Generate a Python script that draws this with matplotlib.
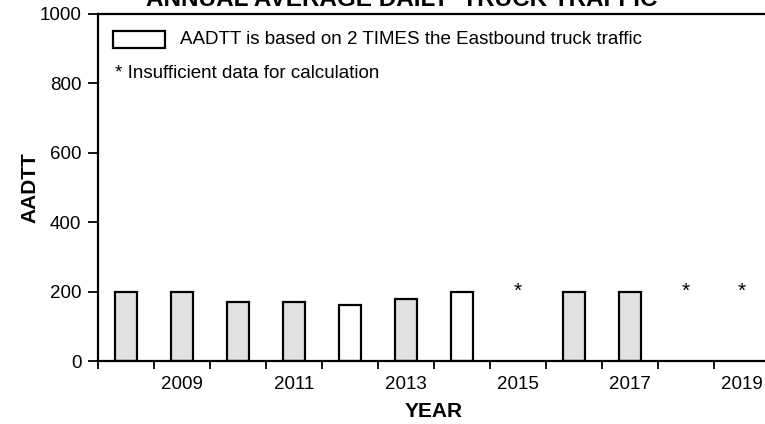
import numpy as np
import matplotlib.pyplot as plt
from matplotlib.patches import Rectangle

plt.rcParams['font.family'] = ['Liberation Sans', 'DejaVu Sans']

years = [2008, 2009, 2010, 2011, 2012, 2013, 2014, 2015, 2016, 2017, 2018, 2019]
# None = insufficient data
aadtt = [200, 200, 170, 170, 160, 180, 200, None, 200, 200, None, None]
# True = based on 2 times the eastbound truck traffic
doubled = [False, False, False, False, True, False, True, False, False, False, False, False]
tick_labels = ['2009', '2011', '2013', '2015', '2017', '2019']

fig = plt.figure(figsize=(7.65, 4.24), dpi=100)
ax = fig.add_axes([98 / 765, 63 / 424, 672 / 765, 347 / 424])

for yr, val, dbl in zip(years, aadtt, doubled):
    if val is None:
        ax.text(yr, 200, '*', ha='center', va='center', fontsize=15)
    else:
        ax.bar(yr, val, width=0.4, color='white' if dbl else '#e2e2e2',
               edgecolor='black', linewidth=1.6)

ax.set_xlim(2007.5, 2019.5)
ax.set_ylim(0, 1000)
ax.set_yticks(np.arange(0, 1001, 200))
ax.set_xticks(np.arange(2007.5, 2019.0, 1.0))
ax.set_xticklabels([])
ax.set_xticks([int(t) for t in tick_labels], minor=True)
ax.set_xticklabels(tick_labels, minor=True)
ax.tick_params(axis='x', which='minor', length=0, pad=11, labelsize=13.5)
ax.tick_params(axis='x', which='major', direction='out', length=6, width=1.3)
ax.tick_params(axis='y', direction='out', length=7, width=1.3, labelsize=13.5, pad=5)
for s in ax.spines.values():
    s.set_linewidth(1.6)

ax.set_xlabel('YEAR', fontsize=15, fontweight='bold', labelpad=6)
ax.set_ylabel('AADTT', fontsize=15, fontweight='bold', labelpad=0)

fig.text(402 / 765, 1 - 6 / 424, 'ANNUAL AVERAGE DAILY  TRUCK TRAFFIC',
         ha='center', va='baseline', fontsize=17.5, fontweight='bold')

# legend note
fig.patches.append(Rectangle((113 / 765, 1 - 48 / 424), 52 / 765, 17 / 424,
                             transform=fig.transFigure, facecolor='white',
                             edgecolor='black', linewidth=1.6))
fig.text(180 / 765, 1 - 40 / 424, 'AADTT is based on 2 TIMES the Eastbound truck traffic',
         ha='left', va='center', fontsize=13.5)
fig.text(115 / 765, 1 - 73 / 424, '* Insufficient data for calculation',
         ha='left', va='center', fontsize=13.5)

fig.savefig('out.png', dpi=100)
